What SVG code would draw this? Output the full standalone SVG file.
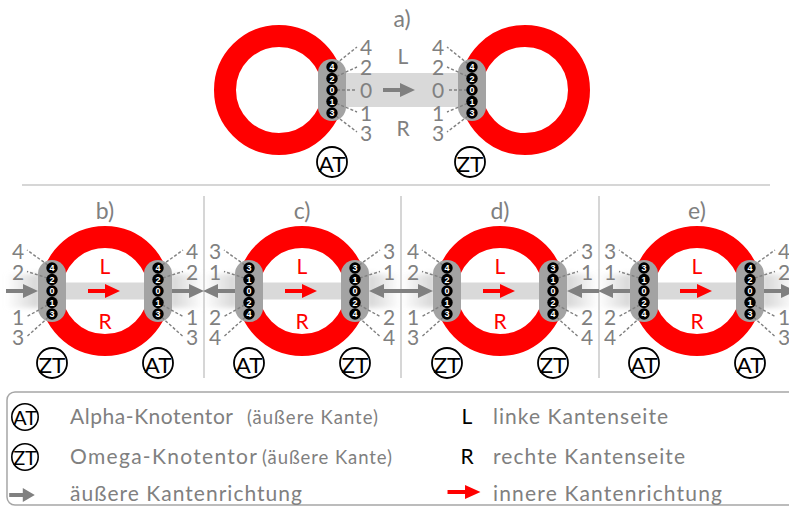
<svg xmlns="http://www.w3.org/2000/svg" width="789" height="507" viewBox="0 0 789 507">
  <style>
    .ring { fill: none; stroke: #ff0000; stroke-width: 22; }
    .pill { fill: #a3a3a3; }
    .band { fill: #d9d9d9; }
    .txt { font-family: Lato, "Liberation Sans", sans-serif; fill: #808080; }
    .num { font-family: Lato, "Liberation Sans", sans-serif; fill: #808080; font-size: 21px; text-anchor: middle; dominant-baseline: central; }
    .title { font-family: Lato, "Liberation Sans", sans-serif; fill: #808080; font-size: 23px; text-anchor: middle; dominant-baseline: central; }
    .side { font-family: Lato, "Liberation Sans", sans-serif; font-size: 21px; text-anchor: middle; dominant-baseline: central; }
    .dash { fill: none; stroke: #808080; stroke-width: 1.4; stroke-dasharray: 3 2; }
    .sep { stroke: #c8c8c8; stroke-width: 1.5; fill: none; }
    .bead { fill: #000; }
    .beadtxt { font-family: "Liberation Sans", sans-serif; font-weight: bold; font-size: 9px; fill: #fff; text-anchor: middle; dominant-baseline: central; }
    .gatec { fill: #fff; stroke: #000; stroke-width: 1.8; }
    .gatet { font-family: Lato, "Liberation Sans", sans-serif; font-size: 22px; fill: #000; text-anchor: middle; dominant-baseline: central; }
    .garrow { fill: #808080; }
    .rarrow { fill: #ff0000; }
  </style>
  <defs>
    <linearGradient id="fadeLeft" x1="0" y1="0" x2="1" y2="0">
      <stop offset="0" stop-color="#d4d4d4" stop-opacity="0"/>
      <stop offset="1" stop-color="#d4d4d4" stop-opacity="1"/>
    </linearGradient>
    <linearGradient id="fadeRight" x1="0" y1="0" x2="1" y2="0">
      <stop offset="0" stop-color="#d4d4d4" stop-opacity="1"/>
      <stop offset="1" stop-color="#d4d4d4" stop-opacity="0"/>
    </linearGradient>
    <filter id="soft" x="-20%" y="-40%" width="140%" height="180%">
      <feGaussianBlur stdDeviation="2.5"/>
    </filter>
    <!-- arrow shape, 32 long, centred on the origin, pointing right -->
    <path id="arrow" d="M-16,-2 H1 V-7 L16,0 L1,7 V2 H-16 Z"/>
    <!-- numbered port beads, top to bottom 4 2 0 1 3 -->
    <g id="beads-42013">
      <circle class="bead" cx="0" cy="-23" r="5.7"/><text class="beadtxt" x="0" y="-23">4</text>
      <circle class="bead" cx="0" cy="-11.5" r="5.7"/><text class="beadtxt" x="0" y="-11.5">2</text>
      <circle class="bead" cx="0" cy="0" r="5.7"/><text class="beadtxt" x="0" y="0">0</text>
      <circle class="bead" cx="0" cy="11.5" r="5.7"/><text class="beadtxt" x="0" y="11.5">1</text>
      <circle class="bead" cx="0" cy="23" r="5.7"/><text class="beadtxt" x="0" y="23">3</text>
    </g>
    <!-- numbered port beads, top to bottom 3 1 0 2 4 -->
    <g id="beads-31024">
      <circle class="bead" cx="0" cy="-23" r="5.7"/><text class="beadtxt" x="0" y="-23">3</text>
      <circle class="bead" cx="0" cy="-11.5" r="5.7"/><text class="beadtxt" x="0" y="-11.5">1</text>
      <circle class="bead" cx="0" cy="0" r="5.7"/><text class="beadtxt" x="0" y="0">0</text>
      <circle class="bead" cx="0" cy="11.5" r="5.7"/><text class="beadtxt" x="0" y="11.5">2</text>
      <circle class="bead" cx="0" cy="23" r="5.7"/><text class="beadtxt" x="0" y="23">4</text>
    </g>
    <rect id="pill" class="pill" x="-14" y="-31" width="28" height="62" rx="14"/>
    <g id="gate-AT"><circle class="gatec" r="15"/><text class="gatet" y="1" textLength="27" lengthAdjust="spacingAndGlyphs">AT</text></g>
    <g id="gate-ZT"><circle class="gatec" r="15"/><text class="gatet" y="1" textLength="27" lengthAdjust="spacingAndGlyphs">ZT</text></g>
    <!-- leader lines from the four outer port labels to their beads -->
    <path id="leaders" class="dash" d="M-53,-23 L-78,-41 M-53,-11.5 L-78,-19.5 M-53,11.5 L-78,25.5 M-53,23 L-78,45.5 M53,-23 L78,-41 M53,-11.5 L78,-19.5 M53,11.5 L78,25.5 M53,23 L78,45.5"/>
  </defs>

  <!-- separators -->
  <g id="separators">
    <line class="sep" x1="22" y1="185" x2="770" y2="185"/>
    <line class="sep" x1="204" y1="196" x2="204" y2="378"/>
    <line class="sep" x1="401" y1="196" x2="401" y2="378"/>
    <line class="sep" x1="599" y1="196" x2="599" y2="378"/>
  </g>

  <!-- panel titles -->
  <g id="titles">
    <text class="title" x="402" y="18">a)</text>
    <text class="title" x="105" y="210">b)</text>
    <text class="title" x="302" y="210">c)</text>
    <text class="title" x="500" y="210">d)</text>
    <text class="title" x="697" y="210">e)</text>
  </g>

  <!-- edge bands -->
  <g id="bands">
    <rect class="band" x="346" y="73" width="113" height="34"/>
    <g filter="url(#soft)">
      <rect x="6" y="274" width="34" height="34" fill="url(#fadeLeft)"/>
      <rect x="170" y="274" width="34" height="34" fill="url(#fadeRight)"/>
      <rect x="203" y="274" width="34" height="34" fill="url(#fadeLeft)"/>
      <rect x="367" y="274" width="34" height="34" fill="url(#fadeRight)"/>
      <rect x="401" y="274" width="34" height="34" fill="url(#fadeLeft)"/>
      <rect x="565" y="274" width="34" height="34" fill="url(#fadeRight)"/>
      <rect x="598" y="274" width="34" height="34" fill="url(#fadeLeft)"/>
      <rect x="762" y="274" width="34" height="34" fill="url(#fadeRight)"/>
    </g>
  </g>

  <!-- panel a: two nodes joined by an edge -->
  <g id="node-a-alpha">
    <circle class="ring" cx="279" cy="90" r="54"/>
    <use href="#pill" x="332" y="90"/>
    <use href="#gate-AT" x="332" y="162"/>
  </g>
  <g id="node-a-omega">
    <circle class="ring" cx="525" cy="90" r="54"/>
    <use href="#pill" x="472" y="90"/>
    <use href="#gate-ZT" x="470" y="162"/>
  </g>
  <g id="edge-a-labels">
    <text class="side" x="403" y="55" fill="#808080">L</text>
    <text class="side" x="403" y="127" fill="#808080">R</text>
    <text class="num" x="366" y="46">4</text>
    <text class="num" x="366" y="66">2</text>
    <text class="num" x="366" y="89">0</text>
    <text class="num" x="366" y="112">1</text>
    <text class="num" x="366" y="132">3</text>
    <text class="num" x="438" y="46">4</text>
    <text class="num" x="438" y="66">2</text>
    <text class="num" x="438" y="89">0</text>
    <text class="num" x="438" y="112">1</text>
    <text class="num" x="438" y="132">3</text>
  </g>

  <!-- panels b to e: one node each, loop edge -->
  <g id="node-b" transform="translate(105,291)">
    <circle class="ring" r="54"/>
    <rect class="band" x="-53" y="-8.5" width="106" height="17"/>
    <use href="#pill" x="-53"/><use href="#pill" x="53"/>
    <text class="side" y="-26" fill="#ff0000">L</text>
    <text class="side" y="29" fill="#ff0000">R</text>
    <text class="num" x="-87" y="-41">4</text><text class="num" x="-87" y="-19.5">2</text>
    <text class="num" x="-87" y="25.5">1</text><text class="num" x="-87" y="45.5">3</text>
    <text class="num" x="87" y="-41">4</text><text class="num" x="87" y="-19.5">2</text>
    <text class="num" x="87" y="25.5">1</text><text class="num" x="87" y="45.5">3</text>
    <use href="#gate-ZT" x="-53" y="72"/><use href="#gate-AT" x="53" y="72"/>
  </g>
  <g id="node-c" transform="translate(302,291)">
    <circle class="ring" r="54"/>
    <rect class="band" x="-53" y="-8.5" width="106" height="17"/>
    <use href="#pill" x="-53"/><use href="#pill" x="53"/>
    <text class="side" y="-26" fill="#ff0000">L</text>
    <text class="side" y="29" fill="#ff0000">R</text>
    <text class="num" x="-87" y="-41">3</text><text class="num" x="-87" y="-19.5">1</text>
    <text class="num" x="-87" y="25.5">2</text><text class="num" x="-87" y="45.5">4</text>
    <text class="num" x="87" y="-41">3</text><text class="num" x="87" y="-19.5">1</text>
    <text class="num" x="87" y="25.5">2</text><text class="num" x="87" y="45.5">4</text>
    <use href="#gate-AT" x="-53" y="72"/><use href="#gate-ZT" x="53" y="72"/>
  </g>
  <g id="node-d" transform="translate(500,291)">
    <circle class="ring" r="54"/>
    <rect class="band" x="-53" y="-8.5" width="106" height="17"/>
    <use href="#pill" x="-53"/><use href="#pill" x="53"/>
    <text class="side" y="-26" fill="#ff0000">L</text>
    <text class="side" y="29" fill="#ff0000">R</text>
    <text class="num" x="-87" y="-41">4</text><text class="num" x="-87" y="-19.5">2</text>
    <text class="num" x="-87" y="25.5">1</text><text class="num" x="-87" y="45.5">3</text>
    <text class="num" x="87" y="-41">3</text><text class="num" x="87" y="-19.5">1</text>
    <text class="num" x="87" y="25.5">2</text><text class="num" x="87" y="45.5">4</text>
    <use href="#gate-ZT" x="-53" y="72"/><use href="#gate-ZT" x="53" y="72"/>
  </g>
  <g id="node-e" transform="translate(697,291)">
    <circle class="ring" r="54"/>
    <rect class="band" x="-53" y="-8.5" width="106" height="17"/>
    <use href="#pill" x="-53"/><use href="#pill" x="53"/>
    <text class="side" y="-26" fill="#ff0000">L</text>
    <text class="side" y="29" fill="#ff0000">R</text>
    <text class="num" x="-87" y="-41">3</text><text class="num" x="-87" y="-19.5">1</text>
    <text class="num" x="-87" y="25.5">2</text><text class="num" x="-87" y="45.5">4</text>
    <text class="num" x="87" y="-41">4</text><text class="num" x="87" y="-19.5">2</text>
    <text class="num" x="87" y="25.5">1</text><text class="num" x="87" y="45.5">3</text>
    <use href="#gate-AT" x="-53" y="72"/><use href="#gate-AT" x="53" y="72"/>
  </g>

  <!-- connectors: port leader lines and direction arrows -->
  <g id="connectors">
    <path class="dash" d="M332,67 L357,47 M332,78.5 L357,67 M332,90 L357,90 M332,101.5 L357,112 M332,113 L357,132"/>
    <path class="dash" d="M472,67 L447,47 M472,78.5 L447,67 M472,90 L447,90 M472,101.5 L447,112 M472,113 L447,132"/>
    <use href="#arrow" class="garrow" x="399" y="90"/>
    <g transform="translate(105,291)">
      <use href="#leaders"/>
      <use href="#arrow" class="rarrow" x="-1"/>
      <use href="#arrow" class="garrow" transform="translate(-83,0)"/>
      <use href="#arrow" class="garrow" transform="translate(83,0)"/>
    </g>
    <g transform="translate(302,291)">
      <use href="#leaders"/>
      <use href="#arrow" class="rarrow" x="-1"/>
      <use href="#arrow" class="garrow" transform="translate(-83,0) rotate(180)"/>
      <use href="#arrow" class="garrow" transform="translate(83,0) rotate(180)"/>
    </g>
    <g transform="translate(500,291)">
      <use href="#leaders"/>
      <use href="#arrow" class="rarrow" x="-1"/>
      <use href="#arrow" class="garrow" transform="translate(-83,0)"/>
      <use href="#arrow" class="garrow" transform="translate(83,0) rotate(180)"/>
    </g>
    <g transform="translate(697,291)">
      <use href="#leaders"/>
      <use href="#arrow" class="rarrow" x="-1"/>
      <use href="#arrow" class="garrow" transform="translate(-83,0) rotate(180)"/>
      <use href="#arrow" class="garrow" transform="translate(83,0)"/>
    </g>
  </g>

  <!-- port beads on top -->
  <g id="ports">
    <use href="#beads-42013" x="332" y="90"/>
    <use href="#beads-42013" x="472" y="90"/>
    <use href="#beads-42013" x="52" y="291"/>
    <use href="#beads-42013" x="158" y="291"/>
    <use href="#beads-31024" x="249" y="291"/>
    <use href="#beads-31024" x="355" y="291"/>
    <use href="#beads-42013" x="447" y="291"/>
    <use href="#beads-31024" x="553" y="291"/>
    <use href="#beads-31024" x="644" y="291"/>
    <use href="#beads-42013" x="750" y="291"/>
  </g>

  <!-- legend -->
  <g id="legend">
    <rect x="7" y="392" width="830" height="113" rx="8" fill="none" stroke="#a6a6a6" stroke-width="1.5"/>
    <use href="#gate-AT" transform="translate(25,417) scale(0.88)"/>
    <use href="#gate-ZT" transform="translate(25,457) scale(0.88)"/>
    <use href="#arrow" class="garrow" transform="translate(22,495) scale(0.8,1)"/>
    <text class="txt" x="70" y="424" font-size="21" textLength="163">Alpha-Knotentor</text>
    <text class="txt" x="247" y="424" font-size="18.5" textLength="131">(äußere Kante)</text>
    <text class="txt" x="70" y="464" font-size="21" textLength="187">Omega-Knotentor</text>
    <text class="txt" x="262" y="464" font-size="18.5" textLength="130">(äußere Kante)</text>
    <text class="txt" x="70" y="501" font-size="21" textLength="232">äußere Kantenrichtung</text>
    <text x="467" y="424" font-family="Lato, 'Liberation Sans', sans-serif" font-size="21" fill="#000" text-anchor="middle">L</text>
    <text x="467" y="464" font-family="Lato, 'Liberation Sans', sans-serif" font-size="21" fill="#000" text-anchor="middle">R</text>
    <use href="#arrow" class="rarrow" transform="translate(464,492) scale(1.03,1)"/>
    <text class="txt" x="493" y="424" font-size="21" textLength="175">linke Kantenseite</text>
    <text class="txt" x="493" y="464" font-size="21" textLength="192">rechte Kantenseite</text>
    <text class="txt" x="493" y="501" font-size="21" textLength="229">innere Kantenrichtung</text>
  </g>
</svg>
